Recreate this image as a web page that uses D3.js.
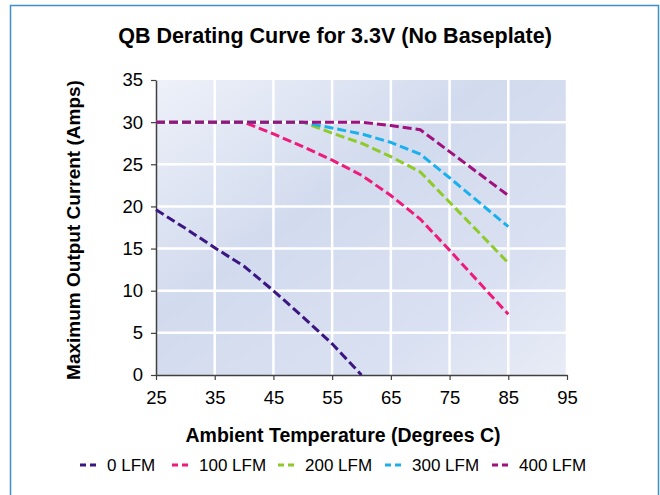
<!DOCTYPE html>
<html>
<head>
<meta charset="utf-8">
<script src="https://cdn.jsdelivr.net/npm/d3@7"></script>
<style>
  body { margin: 0; background: #fff; }
  text { font-family: "Liberation Sans", Arial, sans-serif; fill: #000; }
</style>
</head>
<body>
<svg id="chart" width="660" height="495"></svg>
<script>
// temperatures (deg C) where the curves were read
var temps = [25, 30, 35, 40, 45, 50, 55, 60, 65, 70, 75, 80, 85];

// output current (A) per airflow
var lfm0   = [19.6, 17.4, 15.1, 12.9, 10.0, 6.9, 3.7, 0];
var lfm100 = [30, 30, 30, 30, 28.6, 27.1, 25.5, 23.7, 21.3, 18.5, 14.8, 11.0, 7.2];
var lfm200 = [30, 30, 30, 30, 30, 30, 28.7, 27.5, 25.9, 24.1, 20.5, 16.9, 13.3];
var lfm300 = [30, 30, 30, 30, 30, 30, 29.3, 28.6, 27.6, 26.2, 23.4, 20.5, 17.6];
var lfm400 = [30, 30, 30, 30, 30, 30, 30, 30, 29.6, 29.1, 26.5, 23.9, 21.3];

var seriesNames = ["0 LFM", "100 LFM", "200 LFM", "300 LFM", "400 LFM"];
var seriesColors = ["#3b1580", "#ee1a7c", "#8fca2a", "#1ab0ec", "#a0117e"];

var xTicks = [25, 35, 45, 55, 65, 75, 85, 95];
var yTicks = [0, 5, 10, 15, 20, 25, 30, 35];

var svg = d3.select("#chart");

// outer frame
svg.append("rect")
  .attr("x", 10.5).attr("y", 5.5)
  .attr("width", 648).attr("height", 500)
  .attr("fill", "#fff")
  .attr("stroke", "#3f8fcb")
  .attr("stroke-width", 1.5);

var margin = { top: 80, left: 156 },
    w = 411, h = 295;

var x = d3.scaleLinear().domain([25, 95]).range([0, w]);
var y = d3.scaleLinear().domain([0, 35]).range([h, 0]);

var g = svg.append("g").attr("transform", `translate(${margin.left},${margin.top})`);

// plot background
var grad = svg.append("defs").append("linearGradient")
  .attr("id", "bg").attr("x1", "0").attr("y1", "0").attr("x2", "1").attr("y2", "1");
grad.append("stop").attr("offset", "0%").attr("stop-color", "#eef1f9");
grad.append("stop").attr("offset", "40%").attr("stop-color", "#d2dbee");
grad.append("stop").attr("offset", "75%").attr("stop-color", "#d9e0f1");
grad.append("stop").attr("offset", "100%").attr("stop-color", "#e8ecf6");

g.append("rect")
  .attr("width", w).attr("height", h)
  .attr("fill", "url(#bg)");

// white grid
g.selectAll(".vgrid").data(xTicks.slice(1)).join("line")
  .attr("class", "vgrid")
  .attr("x1", d => x(d)).attr("x2", d => x(d))
  .attr("y1", 0).attr("y2", h)
  .attr("stroke", "#fff").attr("stroke-width", 2.5);
g.selectAll(".hgrid").data(yTicks.slice(1, -1)).join("line")
  .attr("class", "hgrid")
  .attr("x1", 0).attr("x2", w)
  .attr("y1", d => y(d)).attr("y2", d => y(d))
  .attr("stroke", "#fff").attr("stroke-width", 2.5);

// axes
var xAxis = g.append("g")
  .attr("transform", `translate(0,${h})`)
  .call(d3.axisBottom(x).tickValues(xTicks).tickSize(5).tickSizeOuter(0).tickPadding(11));
var yAxis = g.append("g")
  .call(d3.axisLeft(y).tickValues(yTicks).tickSize(5).tickSizeOuter(0).tickPadding(8));

[xAxis, yAxis].forEach(function (a) {
  a.select(".domain").attr("stroke", "#404040").attr("stroke-width", 1.5);
  a.selectAll(".tick line").attr("stroke", "#404040").attr("stroke-width", 1.2);
  a.selectAll(".tick text")
    .style("font-family", "'Liberation Sans', Arial, sans-serif")
    .style("font-size", "18.5px").attr("fill", "#000");
});

// curves
var allSeries = [lfm0, lfm100, lfm200, lfm300, lfm400];
var line = d3.line()
  .x((d, i) => x(temps[i]))
  .y(d => y(d));

g.selectAll(".curve").data(allSeries).join("path")
  .attr("class", "curve")
  .attr("d", d => line(d))
  .attr("fill", "none")
  .attr("stroke", (d, i) => seriesColors[i])
  .attr("stroke-width", 3)
  .attr("stroke-dasharray", "9,4");

// titles
svg.append("text")
  .attr("x", 335).attr("y", 43)
  .attr("text-anchor", "middle")
  .style("font-size", "21.5px").style("font-weight", "bold")
  .text("QB Derating Curve for 3.3V (No Baseplate)");

svg.append("text")
  .attr("x", 343).attr("y", 442)
  .attr("text-anchor", "middle")
  .style("font-size", "19.5px").style("font-weight", "bold")
  .text("Ambient Temperature (Degrees C)");

svg.append("text")
  .attr("transform", "translate(80,230) rotate(-90)")
  .attr("text-anchor", "middle")
  .style("font-size", "19px").style("font-weight", "bold")
  .text("Maximum Output Current (Amps)");

// legend
var legendX = [80, 172, 278, 385, 492];
var legend = svg.selectAll(".legend").data(seriesNames).join("g")
  .attr("class", "legend")
  .attr("transform", (d, i) => `translate(${legendX[i]},465)`);
legend.append("line")
  .attr("x1", 0).attr("x2", 20)
  .attr("stroke", (d, i) => seriesColors[i])
  .attr("stroke-width", 3)
  .attr("stroke-dasharray", "6,4");
legend.append("text")
  .attr("x", 27).attr("y", 6)
  .style("font-size", "17px")
  .text(d => d);
</script>
</body>
</html>
